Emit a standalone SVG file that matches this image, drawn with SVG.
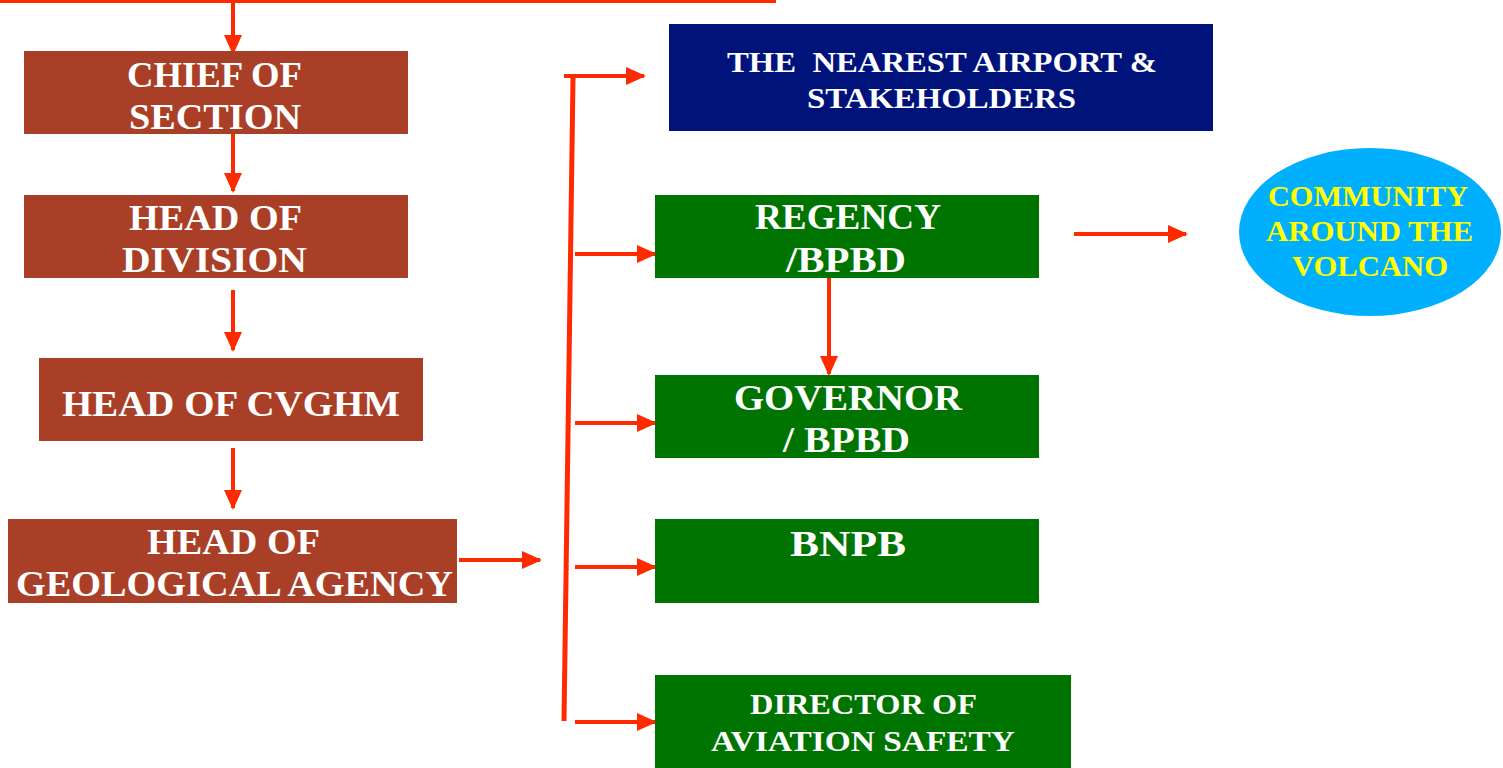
<svg xmlns="http://www.w3.org/2000/svg" width="1503" height="768" viewBox="0 0 1503 768">
  <defs>
    <style>
      .brown { fill: #AA3F28; }
      .blue { fill: #00137A; }
      .green { fill: #007400; }
      .lbl { font-family: "Liberation Serif", "DejaVu Serif", serif; font-weight: bold; fill: #FFFFFF; text-anchor: start; white-space: pre; }
      .big { font-size: 35px; }
      .mid { font-size: 29px; }
      .yel { fill: #FFFF00; }
      .wire { stroke: #FF2A00; stroke-width: 4; fill: none; }
      .arr { stroke: #FF2A00; stroke-width: 4; fill: none; marker-end: url(#head); }
    </style>
    <marker id="head" markerUnits="userSpaceOnUse" markerWidth="20" markerHeight="20" viewBox="0 0 20 20" refX="18" refY="10" orient="auto">
      <path d="M0,1 L20,10 L0,19 Z" fill="#FF2A00"/>
    </marker>
  </defs>

  <rect width="1503" height="768" fill="#FFFFFF"/>

  <!-- connectors -->
  <g id="connectors">
    <line class="wire" x1="0" y1="1" x2="776" y2="1"/>
    <line class="arr" x1="233" y1="1" x2="233" y2="53"/>
    <line class="arr" x1="233" y1="134" x2="233" y2="191"/>
    <line class="arr" x1="233" y1="290" x2="233" y2="350"/>
    <line class="arr" x1="233" y1="448" x2="233" y2="508"/>
    <line class="arr" x1="459" y1="560" x2="540" y2="560"/>
    <line class="wire" x1="573" y1="78" x2="564" y2="721" style="stroke-width:5"/>
    <line class="arr" x1="564" y1="76" x2="644" y2="76"/>
    <line class="arr" x1="575" y1="254" x2="655" y2="254"/>
    <line class="arr" x1="575" y1="423" x2="655" y2="423"/>
    <line class="arr" x1="575" y1="567" x2="655" y2="567"/>
    <line class="arr" x1="575" y1="722" x2="655" y2="722"/>
    <line class="arr" x1="829" y1="278" x2="829" y2="374"/>
    <line class="arr" x1="1074" y1="234" x2="1186" y2="234"/>
  </g>

  <g id="chief-of-section">
    <rect class="brown" x="24" y="51" width="384" height="83"/>
    <text class="lbl big" x="127" y="87" textLength="175" lengthAdjust="spacingAndGlyphs">CHIEF OF</text>
    <text class="lbl big" x="129" y="129" textLength="172" lengthAdjust="spacingAndGlyphs">SECTION</text>
  </g>

  <g id="head-of-division">
    <rect class="brown" x="24" y="195" width="384" height="83"/>
    <text class="lbl big" x="129" y="230" textLength="173" lengthAdjust="spacingAndGlyphs">HEAD OF</text>
    <text class="lbl big" x="122" y="272" textLength="185" lengthAdjust="spacingAndGlyphs">DIVISION</text>
  </g>

  <g id="head-of-cvghm">
    <rect class="brown" x="39" y="358" width="384" height="83"/>
    <text class="lbl big" x="62" y="416" textLength="338" lengthAdjust="spacingAndGlyphs">HEAD OF CVGHM</text>
  </g>

  <g id="head-of-geological-agency">
    <rect class="brown" x="8" y="519" width="449" height="84"/>
    <text class="lbl big" x="147" y="554" textLength="173" lengthAdjust="spacingAndGlyphs">HEAD OF</text>
    <text class="lbl big" x="16" y="596" textLength="437" lengthAdjust="spacingAndGlyphs">GEOLOGICAL AGENCY</text>
  </g>

  <g id="nearest-airport">
    <rect class="blue" x="669" y="24" width="544" height="107"/>
    <text class="lbl mid" x="727" y="72" textLength="430" lengthAdjust="spacingAndGlyphs" xml:space="preserve">THE  NEAREST AIRPORT &amp;</text>
    <text class="lbl mid" x="807" y="108" textLength="269" lengthAdjust="spacingAndGlyphs">STAKEHOLDERS</text>
  </g>

  <g id="regency-bpbd">
    <rect class="green" x="655" y="195" width="384" height="83"/>
    <text class="lbl big" x="755" y="229" textLength="186" lengthAdjust="spacingAndGlyphs">REGENCY</text>
    <text class="lbl big" x="786" y="272" textLength="120" lengthAdjust="spacingAndGlyphs">/BPBD</text>
  </g>

  <g id="governor-bpbd">
    <rect class="green" x="655" y="375" width="384" height="83"/>
    <text class="lbl big" x="734" y="410" textLength="228" lengthAdjust="spacingAndGlyphs">GOVERNOR</text>
    <text class="lbl big" x="783" y="452" textLength="127" lengthAdjust="spacingAndGlyphs">/ BPBD</text>
  </g>

  <g id="bnpb">
    <rect class="green" x="655" y="519" width="384" height="84"/>
    <text class="lbl big" x="790" y="556" textLength="116" lengthAdjust="spacingAndGlyphs">BNPB</text>
  </g>

  <g id="director-aviation-safety">
    <rect class="green" x="655" y="675" width="416" height="93"/>
    <text class="lbl mid" x="750" y="714" textLength="227" lengthAdjust="spacingAndGlyphs">DIRECTOR OF</text>
    <text class="lbl mid" x="711" y="751" textLength="304" lengthAdjust="spacingAndGlyphs">AVIATION SAFETY</text>
  </g>

  <g id="community">
    <ellipse cx="1370" cy="232" rx="131" ry="84" fill="#00B0FF"/>
    <text class="lbl mid yel" x="1268" y="206" textLength="200" lengthAdjust="spacingAndGlyphs">COMMUNITY</text>
    <text class="lbl mid yel" x="1266" y="241" textLength="207" lengthAdjust="spacingAndGlyphs">AROUND THE</text>
    <text class="lbl mid yel" x="1292" y="276" textLength="156" lengthAdjust="spacingAndGlyphs">VOLCANO</text>
  </g>
</svg>
